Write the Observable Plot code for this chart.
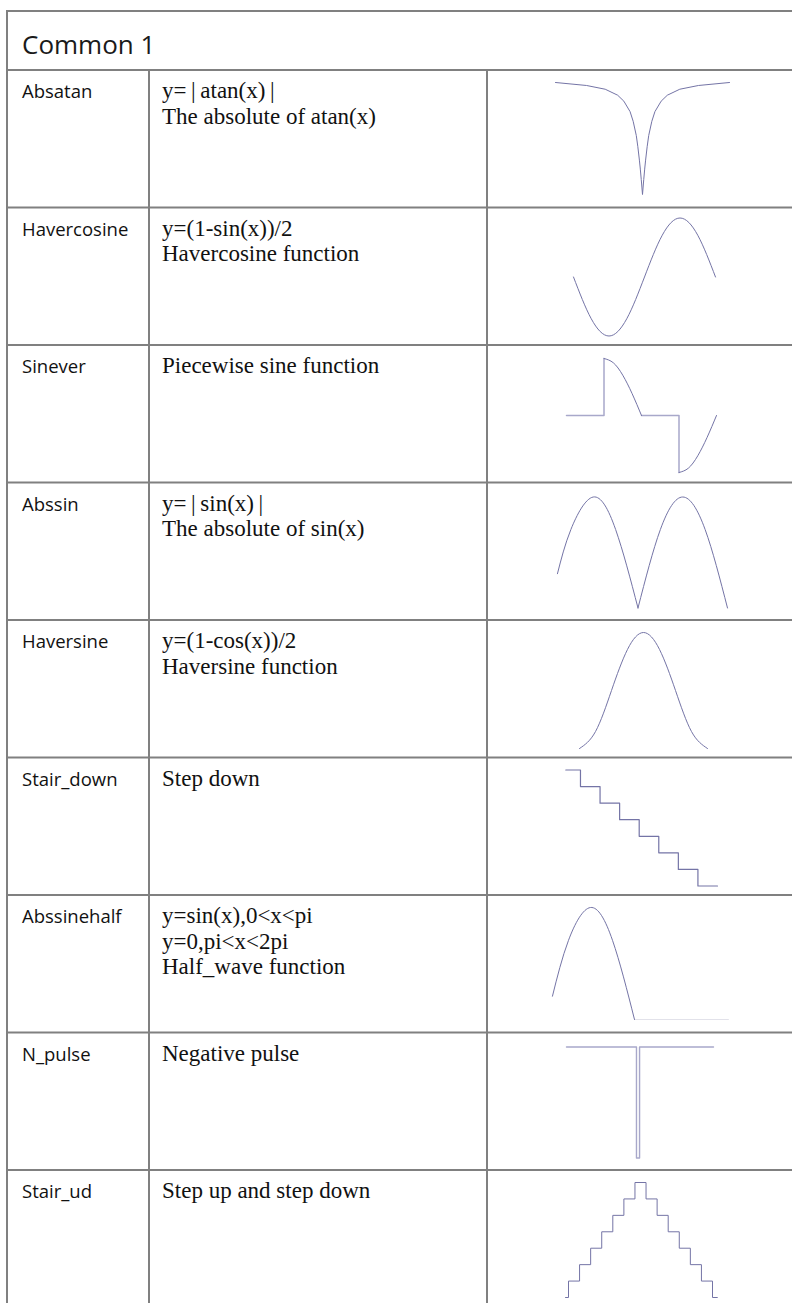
<!DOCTYPE html>
<html><head><meta charset="utf-8">
<script src="https://cdn.jsdelivr.net/npm/d3@7"></script>
<script src="https://cdn.jsdelivr.net/npm/@observablehq/plot@0.6"></script>
<style>
html,body{margin:0;padding:0;background:#fff;}
#page{position:relative;width:792px;height:1303px;overflow:hidden;background:#fff;}
#frame{position:absolute;left:0;top:0;}
.wave{position:absolute;}
.wave svg{overflow:visible;background:transparent;}
</style></head><body><div id="page"></div>
<script>
// ---------- table text ----------
const title = "Common 1";
const names = ["Absatan","Havercosine","Sinever","Abssin","Haversine","Stair_down","Abssinehalf","N_pulse","Stair_ud"];
const descriptions = [
  ["y=\u2009|\u2009atan(x)\u2009|", "The absolute of atan(x)"],
  ["y=(1-sin(x))/2", "Havercosine function"],
  ["Piecewise sine function"],
  ["y=\u2009|\u2009sin(x)\u2009|", "The absolute of sin(x)"],
  ["y=(1-cos(x))/2", "Haversine function"],
  ["Step down"],
  ["y=sin(x),0<x<pi", "y=0,pi<x<2pi", "Half_wave function"],
  ["Negative pulse"],
  ["Step up and step down"]
];

// ---------- waveform values ----------
const absatanX = [-14,-9,-6,-4,-3,-2,-1.5,-1,-0.75,-0.5,-0.35,-0.2,-0.1,0,0.1,0.2,0.35,0.5,0.75,1,1.5,2,3,4,6,9,14];
const absatanY = [1.50,1.46,1.41,1.33,1.25,1.11,0.98,0.79,0.64,0.46,0.34,0.20,0.10,0,0.10,0.20,0.34,0.46,0.64,0.79,0.98,1.11,1.25,1.33,1.41,1.46,1.50];

const havercosX = [0,1,2,3,4,5,6,7,8];
const havercosY = [0.5,0.146,0,0.146,0.5,0.854,1,0.854,0.5];

const sineverFlatX = [0,1,1, 2,3,3];
const sineverFlatY = [0,0,1, 0,0,-1];
const sineverFlatSeg = [1,1,1, 2,2,2];
const sineverCurveX = [1,1.25,1.5,1.75,2, 3,3.25,3.5,3.75,4];
const sineverCurveY = [1,0.924,0.707,0.383,0, -1,-0.924,-0.707,-0.383,0];
const sineverCurveSeg = [1,1,1,1,1, 2,2,2,2,2];

const abssinX = [0.4,1,2,3,4, 4,5,6,7,8];
const abssinY = [0.309,0.707,1,0.707,0, 0,0.707,1,0.707,0];
const abssinSeg = [1,1,1,1,1, 2,2,2,2,2];

const haversineX = [0,1,2,3,4,5,6,7,8];
const haversineY = [0,0.146,0.5,0.854,1,0.854,0.5,0.146,0];

const stairDownX = [0.25,1,2,3,4,5,6,7,8];
const stairDownY = [7,6,5,4,3,2,1,0,0];

const halfwaveX = [0.27,1,2,3,4];
const halfwaveY = [0.208,0.707,1,0.707,0];
const halfwaveTailX = [4,8.27];
const halfwaveTailY = [0,0];

const npulseX = [0,47.6,47.6,49.7,49.7,100];
const npulseY = [0,0,-1,-1,0,0];

const stairUdX = [-0.27,0,1,2,3,4,5,6,7,8,9,10,11,12,13,13.45];
const stairUdY = [0,1,2,3,4,5,6,7,6,5,4,3,2,1,0,0];

// ---------- helpers ----------
const rows = (xs, ys, zs) => xs.map((x, i) => ({x, y: ys[i], z: zs ? zs[i] : 0}));

const W = 792, H = 1303;
const GRID = "#808080";
const rowTop0 = 70, rowH = 137.5;
const rowTop = i => rowTop0 + i * rowH;
const colX = [7, 149, 487];

const page = d3.select("#page");
const svg = page.append("svg").attr("id", "frame").attr("width", W).attr("height", H);

// frame lines
const hl = (y, x1, x2) => svg.append("line").attr("x1", x1).attr("x2", x2).attr("y1", y).attr("y2", y)
  .attr("stroke", GRID).attr("stroke-width", 2);
const vl = (x, y1, y2) => svg.append("line").attr("x1", x).attr("x2", x).attr("y1", y1).attr("y2", y2)
  .attr("stroke", GRID).attr("stroke-width", 2);
hl(11, 6, W);
vl(colX[0], 10, H);
hl(rowTop0, 6, W);
vl(colX[1], rowTop0, H);
vl(colX[2], rowTop0, H);
for (let i = 1; i < names.length; i++) hl(rowTop(i), 6, W);

// title
svg.append("text").attr("x", 22).attr("y", 54).text(title)
  .attr("font-family", "'Open Sans', sans-serif").attr("font-size", 26).attr("fill", "#1a1a1a");

// rows text
names.forEach((n, i) => {
  const base = rowTop(i) + 28;
  svg.append("text").attr("x", 22).attr("y", base).text(n)
    .attr("font-family", "'Open Sans', sans-serif").attr("font-size", 18.5).attr("fill", "#111");
  descriptions[i].forEach((d, k) => {
    svg.append("text").attr("x", 162).attr("y", base + k * 25.5).text(d)
      .attr("font-family", "'Liberation Serif', serif").attr("font-size", 23).attr("fill", "#111");
  });
});

// ---------- waveform thumbnails ----------
const PX = 488; // left of third column content box
function thumb(i, xDomain, xPix, yDomain, yPix, marks) {
  const top = rowTop(i) + 1;
  const chart = Plot.plot({
    width: 300, height: 135, margin: 0,
    x: {domain: xDomain, range: [xPix[0] - PX, xPix[1] - PX], axis: null},
    y: {domain: yDomain, range: [yPix[0] - top, yPix[1] - top], axis: null},
    style: {background: "transparent", overflow: "visible"},
    marks
  });
  page.append("div").attr("class", "wave").style("left", PX + "px").style("top", top + "px")
    .node().appendChild(chart);
}
const WAVE = "#7474a6";
const LIGHT = "#a8a8ca";
const FAINT = "#e2e2ea";

thumb(0, [-14, 14], [555, 729], [0, 1.5], [194, 82], [
  Plot.line(rows(absatanX, absatanY), {x: "x", y: "y", stroke: WAVE, strokeWidth: 1})
]);
thumb(1, [0, 8], [573, 715], [0, 1], [335, 217], [
  Plot.line(rows(havercosX, havercosY), {x: "x", y: "y", curve: "natural", stroke: WAVE, strokeWidth: 1})
]);
thumb(2, [0, 4], [566, 716], [-1, 1], [472, 358], [
  Plot.line(rows(sineverFlatX, sineverFlatY, sineverFlatSeg), {x: "x", y: "y", z: "z", stroke: LIGHT, strokeWidth: 1.5}),
  Plot.line(rows(sineverCurveX, sineverCurveY, sineverCurveSeg), {x: "x", y: "y", z: "z", curve: "natural", stroke: WAVE, strokeWidth: 1})
]);
thumb(3, [0, 8], [548, 727], [0, 1], [607, 496], [
  Plot.line(rows(abssinX, abssinY, abssinSeg), {x: "x", y: "y", z: "z", curve: "natural", stroke: WAVE, strokeWidth: 1})
]);
thumb(4, [0, 8], [579, 707], [0, 1], [748, 632], [
  Plot.line(rows(haversineX, haversineY), {x: "x", y: "y", curve: "natural", stroke: WAVE, strokeWidth: 1})
]);
thumb(5, [0, 8], [560.4, 717], [0, 7], [885, 769], [
  Plot.line(rows(stairDownX, stairDownY), {x: "x", y: "y", curve: "step-after", stroke: WAVE, strokeWidth: 1.2})
]);
thumb(6, [0, 8], [546, 722], [0, 1], [1019, 907], [
  Plot.line(rows(halfwaveTailX, halfwaveTailY), {x: "x", y: "y", stroke: FAINT, strokeWidth: 1}),
  Plot.line(rows(halfwaveX, halfwaveY), {x: "x", y: "y", curve: "natural", stroke: WAVE, strokeWidth: 1})
]);
thumb(7, [0, 100], [566, 713], [-1, 0], [1157, 1046], [
  Plot.line(rows(npulseX, npulseY), {x: "x", y: "y", stroke: LIGHT, strokeWidth: 1.4})
]);
thumb(8, [0, 13], [568, 712], [0, 7], [1297, 1182], [
  Plot.line(rows(stairUdX, stairUdY), {x: "x", y: "y", curve: "step-after", stroke: WAVE, strokeWidth: 1})
]);
</script>
</body></html>
